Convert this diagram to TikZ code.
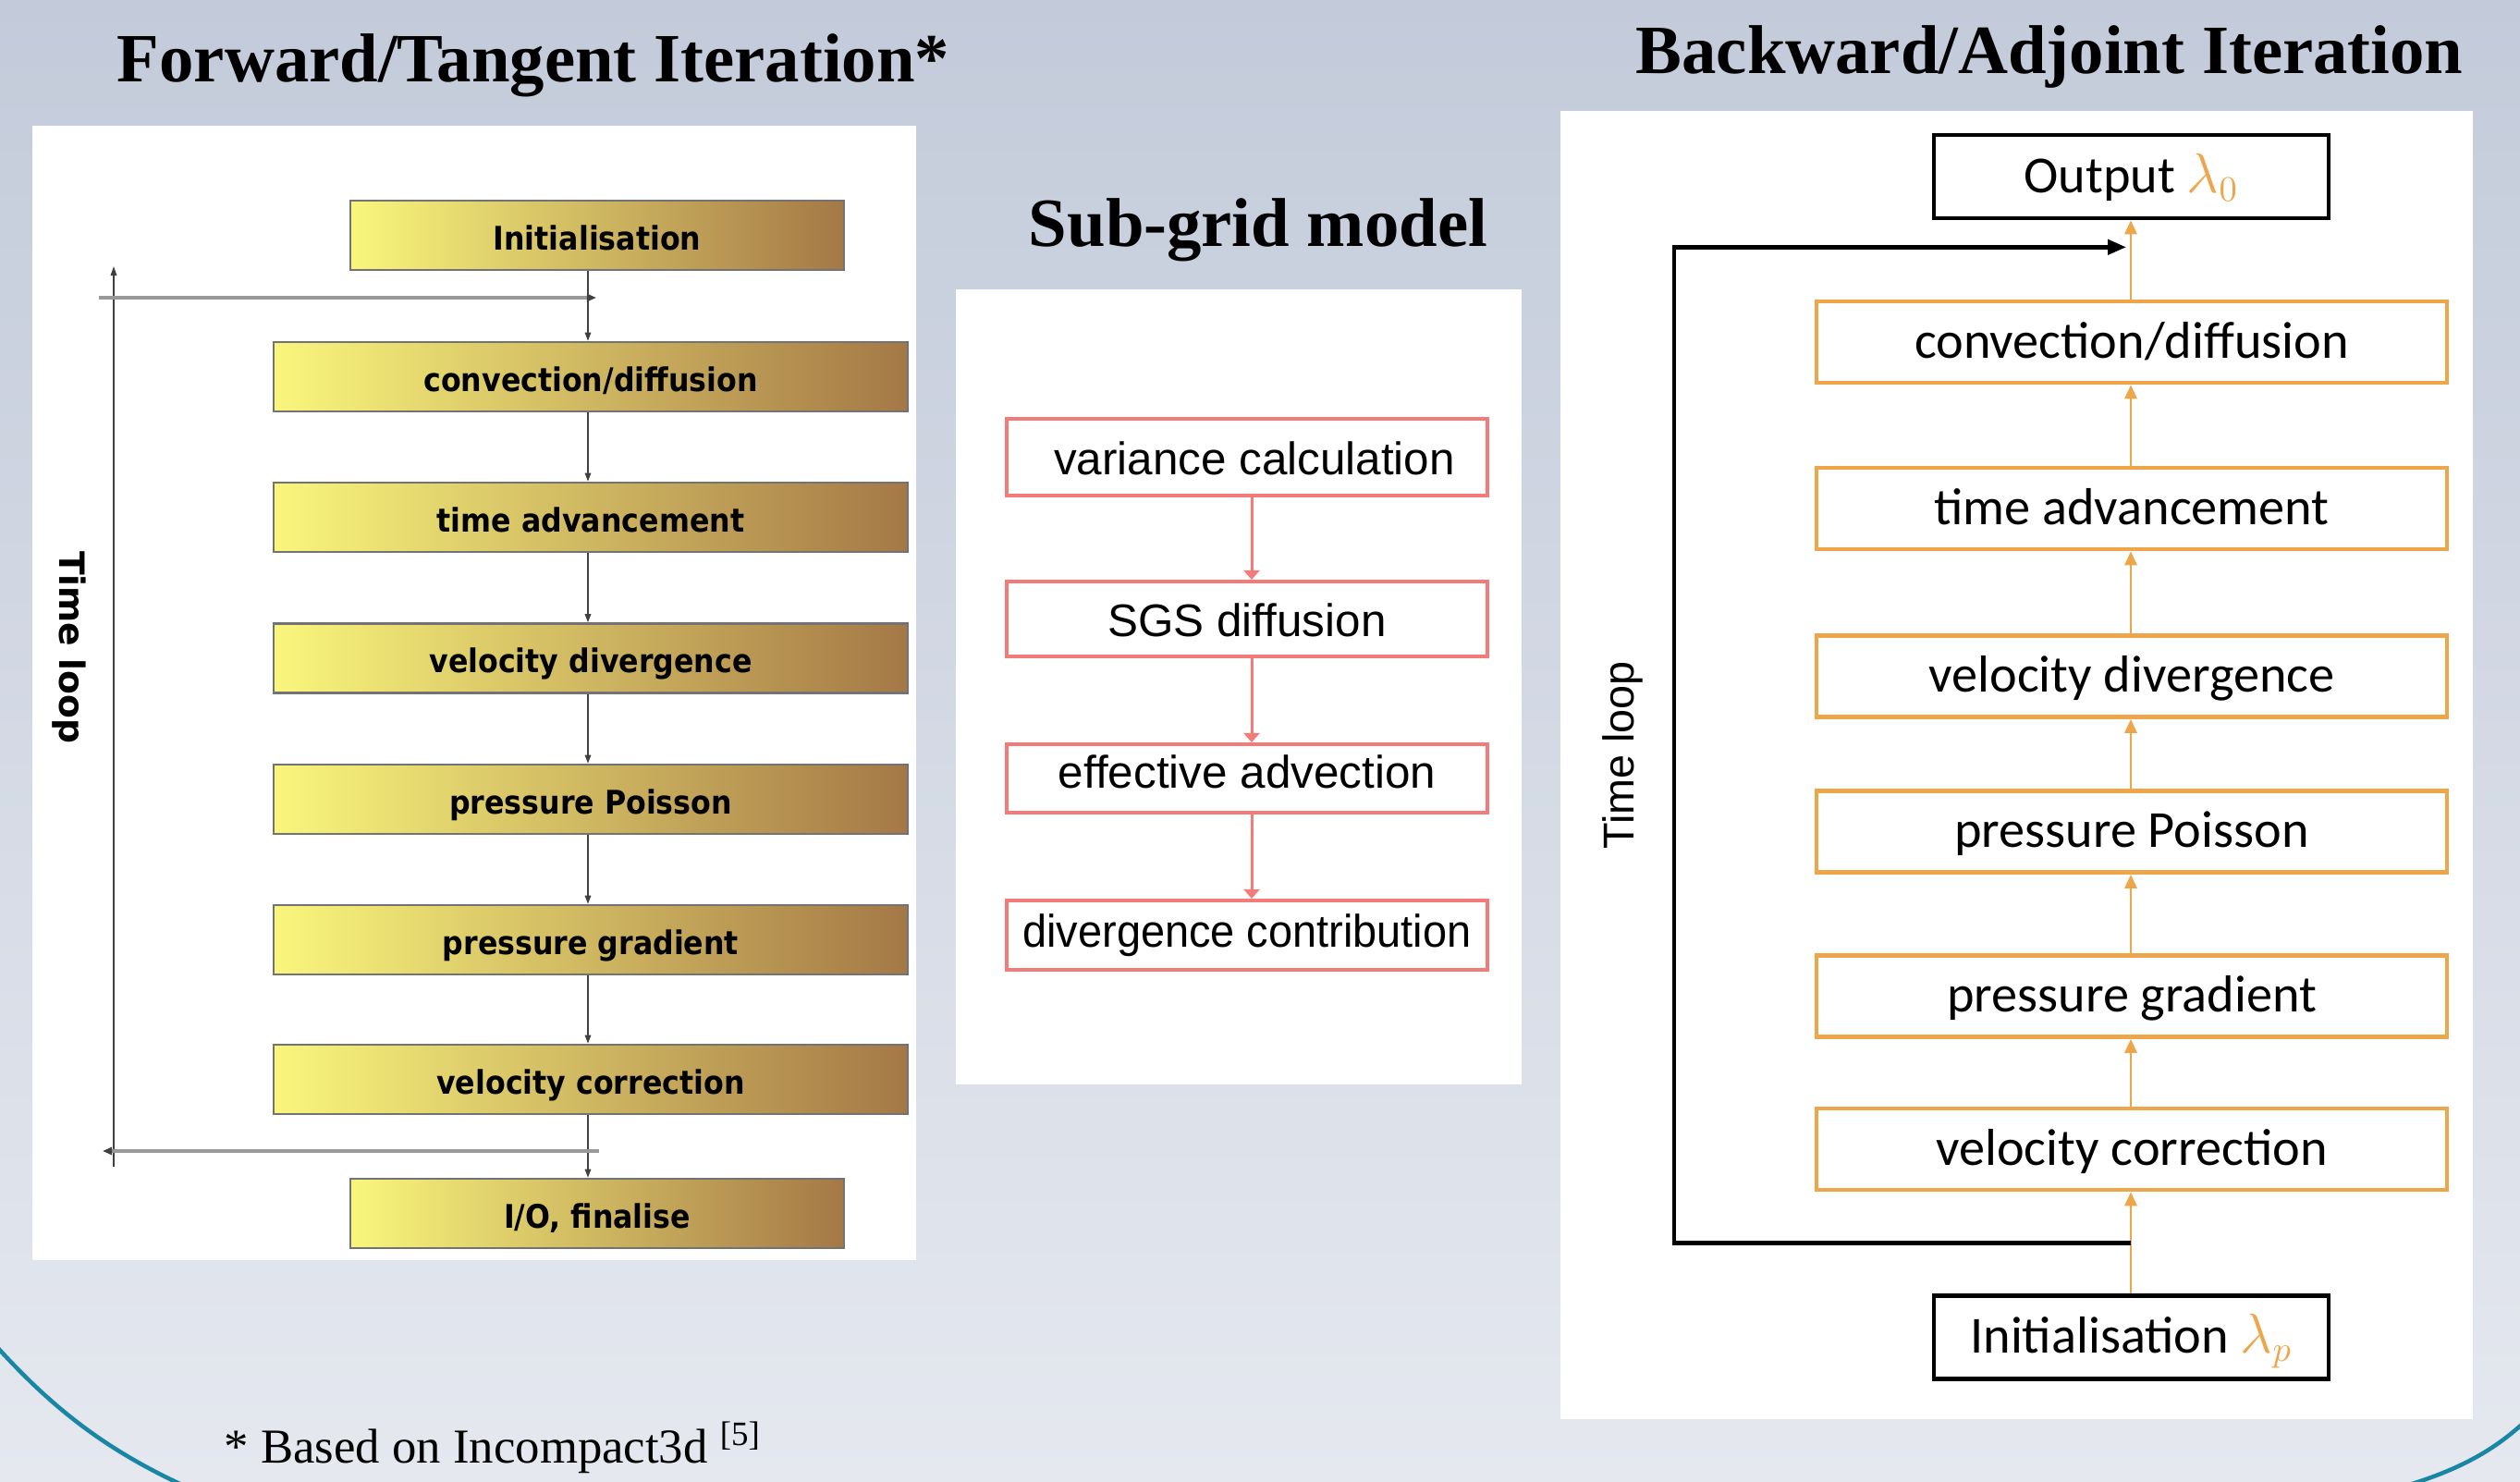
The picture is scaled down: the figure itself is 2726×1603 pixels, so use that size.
\documentclass[tikz,border=0pt]{standalone}
\usepackage{fontspec}
\setmainfont{Liberation Serif}
\newfontfamily\stepfont[FakeStretch=0.9]{DejaVu Sans}
\newfontfamily\lloopfont{DejaVu Sans}
\newfontfamily\sgsfont{Liberation Sans}
\newfontfamily\adjfont{Carlito}
\newfontfamily\rloopfont{Liberation Sans}
\usetikzlibrary{arrows.meta,calc}

\definecolor{bgtop}{RGB}{195,203,218}
\definecolor{bgbot}{RGB}{229,232,239}
\definecolor{stepyel}{RGB}{249,246,124}
\definecolor{stepbrn}{RGB}{164,120,70}
\definecolor{sgsred}{RGB}{243,124,122}
\definecolor{adjorg}{RGB}{238,166,74}
\definecolor{arcteal}{RGB}{26,134,165}

\tikzset{
  titletext/.style={anchor=base, inner sep=0pt,
    font=\bfseries\fontsize{21.25}{25}\selectfont},
  fwdstep/.style={draw=black!55, line width=0.025cm,
    left color=stepyel, right color=stepbrn,
    minimum height=0.75cm, inner sep=0pt,
    text height=0.33cm, text depth=0.02cm,
    font=\stepfont\bfseries\fontsize{10}{12}\selectfont},
  fwdarrow/.style={draw=black!75, line width=0.015cm,
    -{Triangle[length=0.09cm,width=0.065cm]}},
  loopbar/.style={draw=black!40, line width=0.035cm,
    -{Triangle[length=0.1cm,width=0.08cm,color=black!75]}},
  loopline/.style={draw=black!75, line width=0.015cm,
    -{Triangle[length=0.1cm,width=0.065cm]}},
  sgsbox/.style={draw=sgsred, line width=0.04cm, fill=white,
    minimum width=5.2cm, inner sep=0pt,
    text height=0.38cm, text depth=0cm,
    font=\sgsfont\fontsize{14.05}{17}\selectfont},
  sgsarrow/.style={draw=sgsred, line width=0.03cm,
    -{Triangle[length=0.1cm,width=0.17cm]}},
  adjbox/.style={draw=adjorg, line width=0.045cm, fill=white,
    minimum width=6.82cm, minimum height=0.88cm, inner sep=0pt,
    text height=0.36cm, text depth=0.02cm,
    font=\adjfont\fontsize{16}{19}\selectfont},
  endbox/.style={adjbox, draw=black, minimum width=4.27cm, minimum height=0.9cm},
  adjarrow/.style={draw=adjorg, line width=0.028cm,
    -{Triangle[length=0.15cm,width=0.13cm]}},
  adjloop/.style={draw=black, line width=0.045cm,
    -{Triangle[length=0.2cm,width=0.16cm]}},
  tealarc/.style={draw=arcteal, line width=0.045cm},
}

\begin{document}
\begin{tikzpicture}[x=0.01cm, y=-0.01cm]
  % canvas and slide background
  \clip (0,0) rectangle (2726,1603);
  \shade[top color=bgtop, bottom color=bgbot] (0,0) rectangle (2726,1603);
  \draw[tealarc] (-5,1455) .. controls (60,1527) and (120,1572) .. (210,1612);
  \draw[tealarc] (2732,1537) .. controls (2700,1567) and (2660,1592) .. (2585,1612);

  % ---------------- forward / tangent iteration ----------------
  \node[titletext] (ttlfwd) at (577,89) {Forward/Tangent Iteration*};
  \fill[white] (35,136) rectangle (991,1363);

  \node[fwdstep, minimum width=5.34cm] (linit)  at (646,254.5)  {Initialisation};
  \node[fwdstep, minimum width=6.86cm] (lconv)  at (639,407.5)  {convection/diffusion};
  \node[fwdstep, minimum width=6.86cm] (ltime)  at (639,559.5)  {time advancement};
  \node[fwdstep, minimum width=6.86cm] (lvdiv)  at (639,712)    {velocity divergence};
  \node[fwdstep, minimum width=6.86cm] (lppois) at (639,864.5)  {pressure Poisson};
  \node[fwdstep, minimum width=6.86cm] (lpgrad) at (639,1016.5) {pressure gradient};
  \node[fwdstep, minimum width=6.86cm] (lvcorr) at (639,1167.5) {velocity correction};
  \node[fwdstep, minimum width=5.34cm] (lio)    at (646,1312.5) {I/O, finalise};

  \coordinate (laxis) at (636,0);
  \draw[fwdarrow] (linit.south -| laxis)  -- (lconv.north -| laxis);
  \draw[fwdarrow] (lconv.south -| laxis)  -- (ltime.north -| laxis);
  \draw[fwdarrow] (ltime.south -| laxis)  -- (lvdiv.north -| laxis);
  \draw[fwdarrow] (lvdiv.south -| laxis)  -- (lppois.north -| laxis);
  \draw[fwdarrow] (lppois.south -| laxis) -- (lpgrad.north -| laxis);
  \draw[fwdarrow] (lpgrad.south -| laxis) -- (lvcorr.north -| laxis);
  \draw[fwdarrow] (lvcorr.south -| laxis) -- (lio.north -| laxis);

  % time loop of the forward sweep
  \coordinate (ltopL) at (107,322);
  \coordinate (ltopR) at (645,322);
  \coordinate (lbotR) at (648,1245);
  \coordinate (lbotL) at (111,1245);
  \coordinate (lvbot) at (123,1262);
  \coordinate (lvtop) at (123,288);
  \draw[loopline] (lvbot) -- (lvtop);
  \draw[loopbar] (ltopL) -- (ltopR);
  \draw[loopbar] (lbotR) -- (lbotL);
  \node[rotate=-90, inner sep=0pt,
        font=\lloopfont\bfseries\fontsize{10.7}{13}\selectfont] (lloop) at (75,700) {Time loop};

  % ---------------- sub-grid model ----------------
  \node[titletext] (ttlsgs) at (1361,267) {Sub-grid model};
  \fill[white] (1034,313) rectangle (1646,1173);

  \node[sgsbox, minimum height=0.83cm] (svar) at (1349,494.5) {\hspace*{0.16cm}variance calculation};
  \node[sgsbox, minimum height=0.81cm] (ssgs) at (1349,669.5) {SGS diffusion};
  \node[sgsbox, minimum height=0.74cm] (seff) at (1349,842)   {\raisebox{0.09cm}{effective advection}};
  \node[sgsbox, minimum height=0.75cm] (sdiv) at (1349,1011.5){\raisebox{0.065cm}{\scalebox{0.95}[1]{divergence contribution}}};

  \coordinate (saxis) at (1354,0);
  \draw[sgsarrow] (svar.south -| saxis) -- (ssgs.north -| saxis);
  \draw[sgsarrow] (ssgs.south -| saxis) -- (seff.north -| saxis);
  \draw[sgsarrow] (seff.south -| saxis) -- (sdiv.north -| saxis);

  % ---------------- backward / adjoint iteration ----------------
  \node[titletext] (ttlbwd) at (2217,80) {Backward/Adjoint Iteration};
  \fill[white] (1688,120) rectangle (2675,1535);

  \node[endbox] (rout)   at (2305.5,191)  {Output \textcolor{adjorg}{$\lambda_0$}};
  \node[adjbox] (rconv)  at (2306,370)    {convection/diffusion};
  \node[adjbox] (rtime)  at (2306,550)    {time advancement};
  \node[adjbox] (rvdiv)  at (2306,731.5)  {velocity divergence};
  \node[adjbox] (rppois) at (2306,899.5)  {pressure Poisson};
  \node[adjbox] (rpgrad) at (2306,1077.5) {pressure gradient};
  \node[adjbox] (rvcorr) at (2306,1243)   {velocity correction};
  \node[endbox] (rinit)  at (2305.5,1446.5) {Initialisation \textcolor{adjorg}{$\lambda_p$}};

  \coordinate (raxis) at (2305,0);
  \draw[adjarrow] (rinit.north -| raxis)  -- (rvcorr.south -| raxis);
  \draw[adjarrow] (rvcorr.north -| raxis) -- (rpgrad.south -| raxis);
  \draw[adjarrow] (rpgrad.north -| raxis) -- (rppois.south -| raxis);
  \draw[adjarrow] (rppois.north -| raxis) -- (rvdiv.south -| raxis);
  \draw[adjarrow] (rvdiv.north -| raxis)  -- (rtime.south -| raxis);
  \draw[adjarrow] (rtime.north -| raxis)  -- (rconv.south -| raxis);
  \draw[adjarrow] (rconv.north -| raxis)  -- (rout.south -| raxis);

  % time loop of the adjoint sweep
  \coordinate (rlpA) at ($(rinit.north -| raxis)!0.5!(rvcorr.south -| raxis)$);
  \coordinate (rlpB) at ($(rout.south -| raxis)!0.34!(rconv.north -| raxis)$);
  \coordinate (rlpX) at (1811,0);
  \draw[adjloop] (rlpA) -- (rlpA -| rlpX) -- (rlpB -| rlpX) -- ($(rlpB)+(-5,0)$);
  \node[rotate=90, inner sep=0pt,
        font=\rloopfont\fontsize{13.3}{16}\selectfont] (rloop) at (1755,817) {Time loop};

  % ---------------- footnote ----------------
  \node[anchor=base west, inner sep=0pt, font=\fontsize{15}{18}\selectfont]
    (fnote) at (242,1582) {* Based on Incompact3d \textsuperscript{[5]}};
\end{tikzpicture}
\end{document}
